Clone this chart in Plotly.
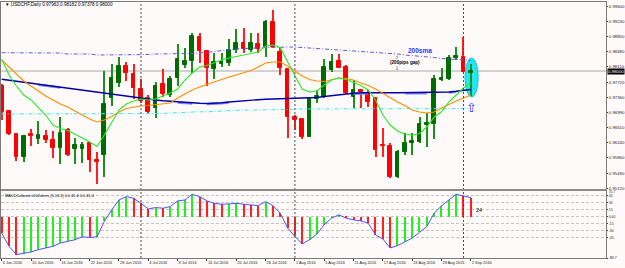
import plotly.graph_objects as go

# ---------------- data ----------------
bars = list(range(65))
tick_idx = [0, 4, 8, 12, 16, 20, 24, 28, 32, 36, 40, 44, 48, 52, 56, 60, 64]
tick_dates = ["6 Jun 2016", "10 Jun 2016", "16 Jun 2016", "22 Jun 2016", "28 Jun 2016",
              "4 Jul 2016", "8 Jul 2016", "14 Jul 2016", "20 Jul 2016", "26 Jul 2016",
              "1 Aug 2016", "5 Aug 2016", "11 Aug 2016", "17 Aug 2016", "23 Aug 2016",
              "29 Aug 2016", "2 Sep 2016"]
month_starts = [19, 40, 63]

opens = [0.97631, 0.97015, 0.96449, 0.95883, 0.96449, 0.96326, 0.96413, 0.96314, 0.96112, 0.96548,
         0.96081, 0.96081, 0.96228, 0.95810, 0.95933, 0.97336, 0.97698, 0.98123, 0.97926, 0.97570,
         0.97348, 0.97082, 0.97673, 0.97410, 0.97821, 0.98148, 0.98246, 0.98845, 0.98493, 0.98042,
         0.98173, 0.98190, 0.98517, 0.98697, 0.98517, 0.98658, 0.98584, 0.99199, 0.98468, 0.98042,
         0.96875, 0.96811, 0.96383, 0.97304, 0.97368, 0.98025, 0.98246, 0.98106, 0.97368, 0.97533,
         0.97434, 0.97328, 0.96172, 0.96162, 0.95384, 0.96000, 0.96221, 0.96260, 0.96671, 0.96696,
         0.97779, 0.97796, 0.98313, 0.98352, 0.97963]
highs = [0.97680, 0.97040, 0.96474, 0.96425, 0.96573, 0.96770, 0.96548, 0.96523, 0.96868, 0.96597,
         0.96351, 0.96253, 0.96253, 0.96007, 0.98008, 0.98173, 0.98357, 0.98222, 0.98173, 0.97803,
         0.97410, 0.97737, 0.98050, 0.97877, 0.98658, 0.98559, 0.98928, 0.98928, 0.98517, 0.98443,
         0.98443, 0.98781, 0.99027, 0.99051, 0.98928, 0.98928, 0.99256, 0.99502, 0.98591, 0.98050,
         0.96917, 0.96843, 0.97360, 0.97533, 0.98288, 0.98411, 0.98411, 0.98148, 0.97779, 0.97557,
         0.97533, 0.97360, 0.96597, 0.96228, 0.96056, 0.96467, 0.96467, 0.96875, 0.96959, 0.97902,
         0.98067, 0.98394, 0.98598, 0.98845, 0.98182]
lows = [0.96794, 0.96425, 0.95785, 0.95760, 0.96155, 0.96204, 0.96228, 0.95859, 0.95711, 0.95908,
        0.95711, 0.95736, 0.95514, 0.95219, 0.95384, 0.97139, 0.97606, 0.97754, 0.97311, 0.97213,
        0.96966, 0.96843, 0.97368, 0.97360, 0.97631, 0.98074, 0.97944, 0.98205, 0.97631, 0.97796,
        0.98099, 0.98123, 0.98436, 0.98436, 0.98475, 0.98436, 0.98345, 0.98566, 0.97902, 0.96344,
        0.96548, 0.96326, 0.96376, 0.97205, 0.97336, 0.97976, 0.98074, 0.97434, 0.97090, 0.97090,
        0.97114, 0.95876, 0.95884, 0.95366, 0.95366, 0.95933, 0.95933, 0.96228, 0.96137, 0.96319,
        0.97754, 0.97779, 0.98271, 0.97976, 0.97378]
closes = [0.96991, 0.96449, 0.95883, 0.96400, 0.96400, 0.96425, 0.96302, 0.96117, 0.96467, 0.95933,
          0.96179, 0.96179, 0.95810, 0.95773, 0.97188, 0.97828, 0.98131, 0.97944, 0.97575, 0.97262,
          0.97003, 0.97631, 0.97434, 0.97796, 0.98303, 0.98246, 0.98862, 0.98493, 0.98067, 0.98229,
          0.98215, 0.98517, 0.98697, 0.98535, 0.98682, 0.98535, 0.99214, 0.98598, 0.98067, 0.96861,
          0.96794, 0.96383, 0.97304, 0.97385, 0.98106, 0.98229, 0.98082, 0.97466, 0.97533, 0.97491,
          0.97245, 0.96056, 0.96154, 0.95384, 0.96000, 0.96235, 0.96285, 0.96688, 0.96713, 0.97796,
          0.97821, 0.98313, 0.98370, 0.97983, 0.98000]

ma_fast = [0.98288, 0.97902, 0.97631, 0.97410, 0.97287, 0.97114, 0.96917, 0.96671, 0.96585, 0.96536,
           0.96450, 0.96351, 0.96253, 0.96142, 0.96425, 0.96745, 0.97040, 0.97188, 0.97262, 0.97311,
           0.97287, 0.97311, 0.97385, 0.97459, 0.97557, 0.97779, 0.97951, 0.98099, 0.98136, 0.98210,
           0.98271, 0.98320, 0.98357, 0.98394, 0.98419, 0.98468, 0.98616, 0.98640, 0.98579, 0.98222,
           0.97877, 0.97557, 0.97483, 0.97508, 0.97656, 0.97779, 0.97828, 0.97791, 0.97717, 0.97643,
           0.97533, 0.97287, 0.96917, 0.96671, 0.96523, 0.96450, 0.96425, 0.96462, 0.96622, 0.96868,
           0.96996, 0.97237, 0.97410, 0.97582, 0.97705]
ma_mid = [0.98271, 0.98099, 0.97902, 0.97754, 0.97631, 0.97508, 0.97385, 0.97287, 0.97188, 0.97114,
          0.97016, 0.96917, 0.96819, 0.96745, 0.96794, 0.96880, 0.96991, 0.97077, 0.97114, 0.97139,
          0.97151, 0.97176, 0.97188, 0.97213, 0.97336, 0.97434, 0.97533, 0.97606, 0.97668, 0.97742,
          0.97791, 0.97853, 0.97902, 0.97951, 0.98013, 0.98099, 0.98197, 0.98222, 0.98222, 0.98123,
          0.98000, 0.97877, 0.97791, 0.97754, 0.97742, 0.97779, 0.97828, 0.97816, 0.97779, 0.97705,
          0.97643, 0.97557, 0.97446, 0.97336, 0.97237, 0.97151, 0.97040, 0.96991, 0.96966, 0.96991,
          0.97090, 0.97176, 0.97262, 0.97336, 0.97410]
ma_slow = [0.97796, 0.97771, 0.97747, 0.97725, 0.97702, 0.97678, 0.97656, 0.97631, 0.97607, 0.97582,
           0.97557, 0.97533, 0.97501, 0.97471, 0.97447, 0.97422, 0.97397, 0.97373, 0.97348, 0.97323,
           0.97304, 0.97287, 0.97269, 0.97255, 0.97237, 0.97225, 0.97213, 0.97205, 0.97200, 0.97205,
           0.97220, 0.97237, 0.97255, 0.97269, 0.97287, 0.97294, 0.97304, 0.97311, 0.97316, 0.97321,
           0.97323, 0.97326, 0.97328, 0.97348, 0.97373, 0.97397, 0.97422, 0.97439, 0.97454, 0.97464,
           0.97469, 0.97471, 0.97471, 0.97469, 0.97466, 0.97466, 0.97466, 0.97466, 0.97466, 0.97469,
           0.97471, 0.97483, 0.97501, 0.97520, 0.97545]
N = None
ma_slow2 = [N, N, N, N, N, 0.97661, 0.97639, 0.97614, 0.97590, N,
            N, N, N, N, N, N, N, N, N, N,
            N, N, N, N, 0.97220, 0.97208, 0.97196, N, 0.97183, 0.97188,
            0.97203, 0.97220, N, N, N, N, N, N, N, N,
            N, N, N, N, N, N, N, N, 0.97437, 0.97447,
            0.97452, N, N, N, N, 0.97449, 0.97449, 0.97449, 0.97449, N,
            N, 0.97466, 0.97484, N, N]
ma_200 = [0.98451, 0.98451, 0.98451, 0.98451, 0.98451, 0.98443, 0.98443, 0.98443, 0.98443, 0.98419,
          0.98419, 0.98419, 0.98419, 0.98394, 0.98394, 0.98394, 0.98407, 0.98407, 0.98407, 0.98407,
          0.98407, 0.98419, 0.98419, 0.98419, 0.98419, 0.98419, 0.98431, 0.98443, 0.98456, 0.98480,
          0.98505, 0.98530, 0.98542, 0.98554, 0.98567, 0.98567, 0.98579, 0.98579, 0.98591, 0.98591,
          0.98591, 0.98579, 0.98567, 0.98567, 0.98554, 0.98542, 0.98530, 0.98517, 0.98505, 0.98493,
          0.98468, 0.98456, 0.98443, 0.98431, 0.98419, 0.98394, 0.98382, 0.98357, 0.98345, 0.98333,
          0.98308, 0.98296, 0.98283, 0.98271, 0.98259]
ma_cyan = [0.96942, 0.96942, 0.96942, 0.96942, 0.96942, 0.96942, 0.96942, 0.96942, 0.96942, 0.96942,
           0.96942, 0.96942, 0.96942, 0.96942, 0.96942, 0.96942, 0.96942, 0.96942, 0.96942, 0.96942,
           0.96942, 0.96954, 0.96954, 0.96967, 0.96967, 0.96979, 0.96991, 0.96991, 0.97003, 0.97003,
           0.97016, 0.97028, 0.97028, 0.97040, 0.97040, 0.97040, 0.97040, 0.97053, 0.97053, 0.97053,
           0.97065, 0.97065, 0.97065, 0.97065, 0.97065, 0.97065, 0.97065, 0.97065, 0.97065, 0.97065,
           0.97065, 0.97077, 0.97077, 0.97077, 0.97077, 0.97077, 0.97077, 0.97077, 0.97077, 0.97077,
           0.97077, 0.97077, 0.97077, 0.97077, 0.97077]

macd = [-35.0, -63.5, -81.4, -79.3, -75.7, -70.7, -67.1, -63.5, -56.4, -52.8,
        -49.3, -43.0, -44.5, -42.8, -10.0, 15.0, 36.4, 43.6, 40.0, 29.3,
        17.1, 20.0, 18.6, 22.1, 34.3, 36.4, 48.6, 43.6, 34.3, 29.3,
        27.1, 27.8, 29.3, 27.1, 26.5, 24.3, 32.8, 24.3, 7.9, -24.3,
        -42.1, -58.5, -49.3, -37.1, -17.1, -2.9, 4.3, -2.9, -6.4, -8.6,
        -13.6, -38.6, -47.8, -67.1, -62.1, -54.3, -45.7, -33.6, -20.7, 7.9,
        23.6, 36.4, 48.6, 45.0, 41.4]

price_ticks = [0.99600, 0.99230, 0.98850, 0.98480, 0.98110, 0.97720, 0.97360,
               0.96990, 0.96610, 0.96240, 0.95860, 0.95490, 0.95120]
macd_ticks = [45, 30, 15, 0, -15, -30, -45, -88.7]
macd_tick_text = ["45", "30", "15", "0.00", "-15", "-30", "-45", "-88.7"]
macd_max = 55.7

title_text = "▼ USDCHF,Daily 0.97963 0.98182 0.97378 0.98000"
macd_title = "MACDColored v102alerts (5,13,1) 0.0 41.4 0.0 41.4"

# ---------------- styling ----------------
BG = "#fffafa"
FONT = "Liberation Sans"
X_RANGE = [-0.0955, 82.44]
Y_RANGE = [0.95096, 0.99699]
MACD_RANGE = [-88.7, macd_max]
MAIN_DOM = [0.2695, 1.0]
MACD_DOM = [0.0, 0.2617]

bull = [c >= o for o, c in zip(opens, closes)]
body_col = ["#006c00" if b else "#ff0000" for b in bull]
wick_col = ["#1c8f1c" if b else "#ff2020" for b in bull]
body_base = [min(o, c) for o, c in zip(opens, closes)]
body_h = [abs(c - o) for o, c in zip(opens, closes)]
wick_h = [h - l for h, l in zip(highs, lows)]

fig = go.Figure()

# candles (wicks then bodies)
fig.add_trace(go.Bar(x=bars, y=wick_h, base=lows, width=0.14, marker=dict(color=wick_col, line=dict(width=0)),
                     xaxis="x", yaxis="y", hoverinfo="skip", showlegend=False))
fig.add_trace(go.Bar(x=bars, y=body_h, base=body_base, width=0.5,
                     marker=dict(color=body_col, line=dict(color=body_col, width=1)),
                     xaxis="x", yaxis="y", hoverinfo="skip", showlegend=False))

DD = "4px,2px,1px,2px"
fig.add_trace(go.Scatter(x=bars, y=ma_cyan, mode="lines", line=dict(color="#35e8ee", width=1, dash=DD),
                         xaxis="x", yaxis="y", hoverinfo="skip", showlegend=False))
fig.add_trace(go.Scatter(x=bars, y=ma_200, mode="lines", line=dict(color="#5a5aee", width=1, dash=DD),
                         xaxis="x", yaxis="y", hoverinfo="skip", showlegend=False))
fig.add_trace(go.Scatter(x=bars, y=ma_slow2, mode="lines", line=dict(color="#8484ee", width=2.2),
                         connectgaps=False, xaxis="x", yaxis="y", hoverinfo="skip", showlegend=False))
fig.add_trace(go.Scatter(x=bars, y=ma_slow, mode="lines", line=dict(color="#0000a8", width=1.4),
                         xaxis="x", yaxis="y", hoverinfo="skip", showlegend=False))
fig.add_trace(go.Scatter(x=bars, y=ma_mid, mode="lines", line=dict(color="#ff8c00", width=1.1),
                         xaxis="x", yaxis="y", hoverinfo="skip", showlegend=False))
fig.add_trace(go.Scatter(x=bars, y=ma_fast, mode="lines", line=dict(color="#22ee22", width=1.1),
                         xaxis="x", yaxis="y", hoverinfo="skip", showlegend=False))

# MACD panel
macd_col = ["#ff2020" if (i == 0 or v < macd[i - 1]) else "#22ee22" for i, v in enumerate(macd)]
fig.add_trace(go.Bar(x=bars, y=macd, width=0.15, marker=dict(color=macd_col, line=dict(width=0)),
                     xaxis="x2", yaxis="y2", hoverinfo="skip", showlegend=False))
fig.add_trace(go.Scatter(x=bars, y=macd, mode="lines", line=dict(color="#5050ff", width=1),
                         xaxis="x2", yaxis="y2", hoverinfo="skip", showlegend=False))

shapes = []
# cyan ellipse highlight
shapes.append(dict(type="circle", xref="x", yref="y", x0=63.2, x1=65.0, y0=0.97360, y1=0.98320,
                   fillcolor="#22e6f4", line=dict(color="#12c4dc", width=1), layer="below"))
# current price line
shapes.append(dict(type="line", xref="x domain", yref="y", x0=0, x1=1, y0=closes[-1], y1=closes[-1],
                   line=dict(color="#a8a8a8", width=1), layer="below"))
# month separators
for m in month_starts:
    shapes.append(dict(type="line", xref="x", yref="paper", x0=m, x1=m, y0=0, y1=1,
                       line=dict(color="#4a4a4a", width=1, dash="2px,2px"), layer="above"))
# panel separator band
shapes.append(dict(type="rect", xref="paper", yref="paper", x0=0, x1=1, y0=MACD_DOM[1], y1=MAIN_DOM[0],
                   fillcolor="#8c8c8c", line=dict(width=0), layer="above"))

ann = []
ann.append(dict(xref="paper", yref="paper", x=0.0025, y=0.9883, xanchor="left", yanchor="middle",
                text=title_text, showarrow=False, font=dict(family=FONT, size=4.6, color="#000000")))
ann.append(dict(xref="paper", yref="paper", x=0.0035, y=0.246, xanchor="left", yanchor="middle",
                text=macd_title, showarrow=False, font=dict(family=FONT, size=3.9, color="#000000")))
ann.append(dict(xref="x", yref="y", x=57.07, y=0.98517, text="<b>200sma</b>", showarrow=False,
                font=dict(family=FONT, size=6.5, color="#1f37ff")))
ann.append(dict(xref="x", yref="y", x=55.02, y=0.98210, text="<b>(200pips gap)</b>", showarrow=False,
                font=dict(family=FONT, size=4.6, color="#000000")))
ann.append(dict(xref="x", yref="y", x=53.93, y=0.98357, text="⇧", showarrow=False,
                font=dict(family="DejaVu Sans", size=5, color="#444444")))
ann.append(dict(xref="x", yref="y", x=53.93, y=0.98074, text="⇩", showarrow=False,
                font=dict(family="DejaVu Sans", size=5, color="#444444")))
ann.append(dict(xref="x", yref="y", x=64.09, y=0.97102, text="⇧", showarrow=False,
                font=dict(family="DejaVu Sans", size=13, color="#1f3cff")))
ann.append(dict(xref="x2", yref="y2", x=65.07, y=14.7, text="24", showarrow=False,
                font=dict(family=FONT, size=5.5, color="#000000")))
ann.append(dict(xref="paper", yref="y", x=1, y=closes[-1], xanchor="left", yanchor="middle", xshift=1,
                text="0.98000", showarrow=False, bgcolor="#000000", borderpad=0,
                font=dict(family=FONT, size=4.3, color="#ffffff")))
ann.append(dict(xref="paper", yref="y2", x=1, y=macd_max, xanchor="left", yanchor="middle", xshift=2, yshift=-1.2,
                text=f"{macd_max}", showarrow=False, borderpad=0,
                font=dict(family=FONT, size=3.3, color="#1a1a1a")))

axis_line = dict(showline=True, mirror=True, linecolor="#7a7a7a", linewidth=1, showgrid=False,
                 zeroline=False, automargin=False)

fig.update_layout(
    width=625, height=268,
    margin=dict(l=1, r=19, t=2, b=10),
    paper_bgcolor=BG, plot_bgcolor=BG,
    barmode="overlay", bargap=0,
    showlegend=False,
    font=dict(family=FONT, size=4.6, color="#1a1a1a"),
    xaxis=dict(domain=[0, 1], anchor="y", range=X_RANGE, showticklabels=False, ticks="",
               fixedrange=True, **axis_line),
    yaxis=dict(domain=MAIN_DOM, anchor="x", side="right", range=Y_RANGE, tickvals=price_ticks,
               ticktext=[f"{v:.5f}" for v in price_ticks], ticks="outside", ticklen=1, tickcolor="#333333",
               ticklabelstandoff=0,
               tickfont=dict(family=FONT, size=4.3, color="#1a1a1a"), **axis_line),
    xaxis2=dict(domain=[0, 1], anchor="y2", range=X_RANGE, matches="x", tickvals=tick_idx, ticktext=tick_dates,
                ticks="outside", ticklen=2, tickcolor="#333333", ticklabelposition="outside right",
                tickangle=0, tickfont=dict(family=FONT, size=3.9, color="#1a1a1a"), **axis_line),
    yaxis2=dict(domain=MACD_DOM, anchor="x2", side="right", range=MACD_RANGE, tickvals=macd_ticks,
                ticktext=macd_tick_text, ticks="outside", ticklen=1, tickcolor="#333333",
                ticklabelstandoff=0,
                tickfont=dict(family=FONT, size=3.5, color="#1a1a1a"), automargin=False,
                showline=True, mirror=True, linecolor="#7a7a7a", linewidth=1, zeroline=False,
                showgrid=True, gridcolor="#c4c4c4", griddash="3px,2px", gridwidth=1),
    shapes=shapes,
    annotations=ann,
)

fig.write_html("out.html")
